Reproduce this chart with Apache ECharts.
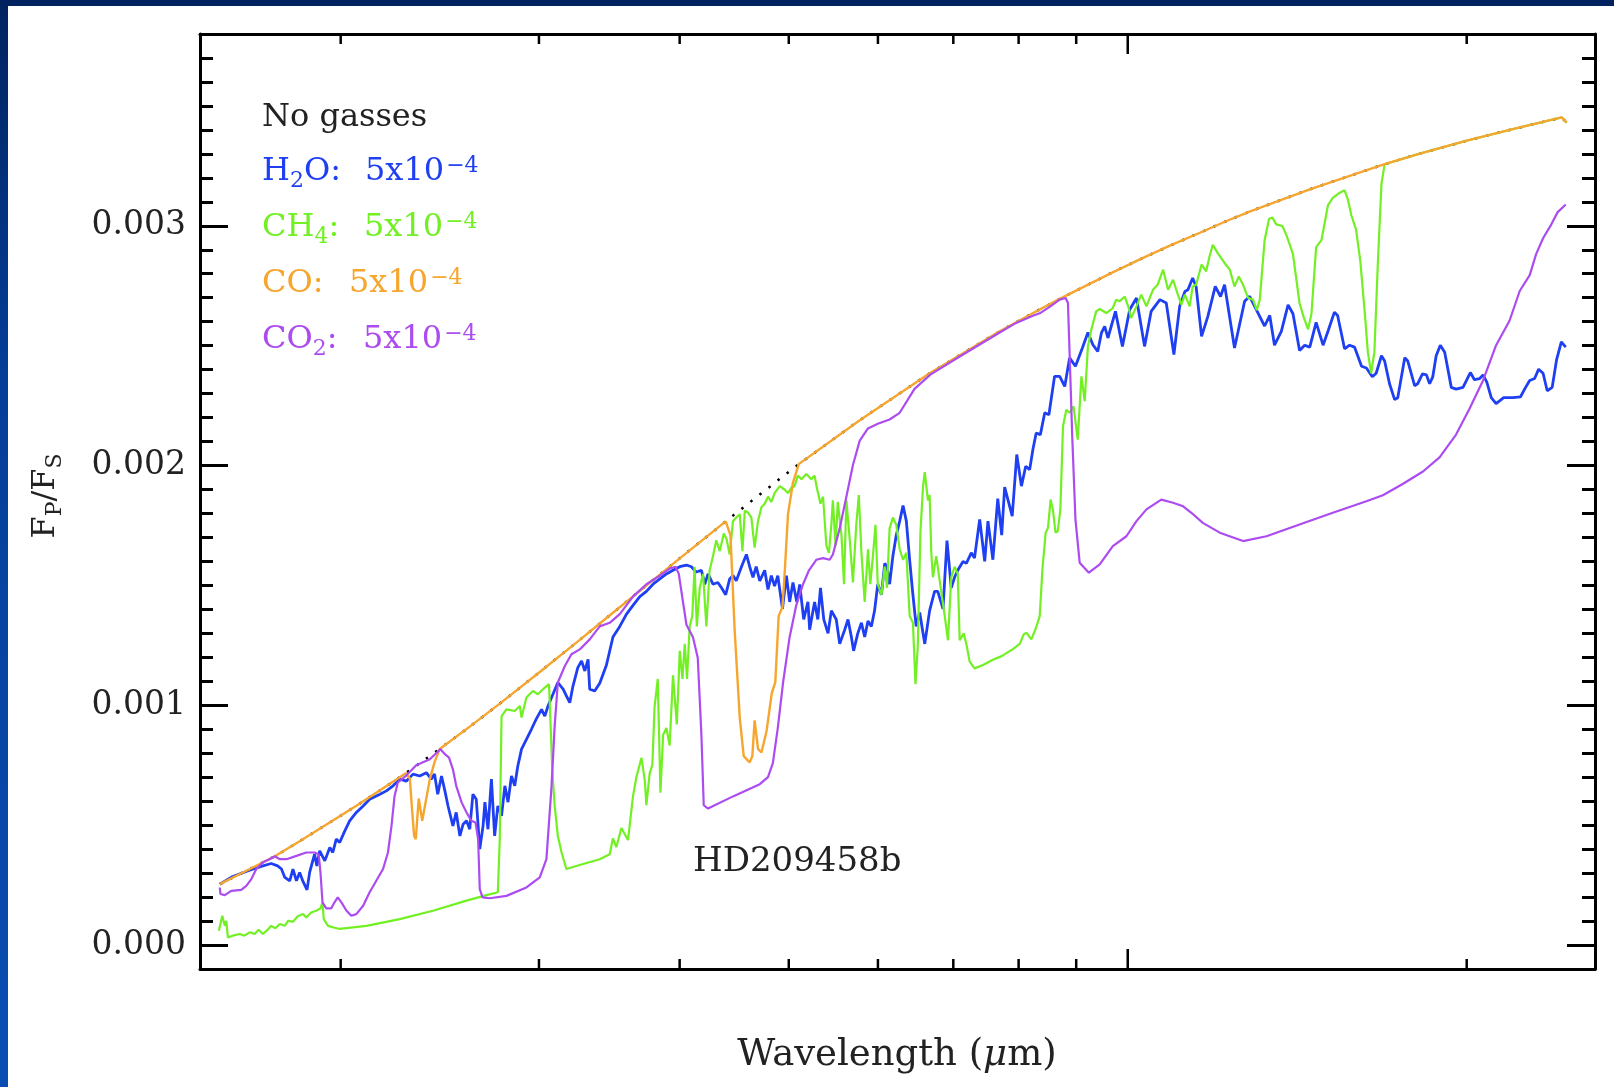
<!DOCTYPE html>
<html>
<head>
<meta charset="utf-8">
<script src="https://cdn.jsdelivr.net/npm/echarts@6.0.0/dist/echarts.min.js"></script>
<style>
html,body{margin:0;padding:0;background:#fff;}
#chart{width:1614px;height:1087px;}
</style>
</head>
<body>
<div id="chart"></div>
<script>
// ---------- DATA (wavelength in micron, planet/star flux ratio) ----------
const noGas = [[1.562,0.000254],[1.661,0.000317],[1.748,0.00037],[1.839,0.000433],[1.996,0.000537],[2.08,0.00059],[2.257,0.0007],[2.351,0.000758],[2.449,0.000818],[2.604,0.000911],[2.769,0.001007],[3.005,0.001139],[3.261,0.001273],[3.397,0.001341],[3.841,0.001545],[4.001,0.001613],[4.395,0.001767],[4.712,0.001879],[5.103,0.002006],[5.781,0.002189],[6.67,0.002385],[7.092,0.00246],[7.696,0.00256],[8.18,0.002628],[8.70,0.002695],[9.697,0.002806],[10.25,0.00286],[10.90,0.002917],[11.59,0.002971],[12.24,0.00302],[12.83,0.003059],[13.65,0.003106],[14.51,0.003152],[15.58,0.003201],[16.91,0.003257],[18.17,0.003301],[20.04,0.003356],[22.06,0.003405],[24.29,0.003452],[24.54,0.00343]];

const h2o = [[1.562,0.000254],[1.604,0.000286],[1.660,0.000312],[1.706,0.00033],[1.735,0.00034],[1.758,0.00033],[1.772,0.000317],[1.784,0.000282],[1.802,0.000268],[1.814,0.000317],[1.827,0.000268],[1.839,0.000303],[1.852,0.000264],[1.867,0.00023],[1.877,0.000303],[1.896,0.000379],[1.905,0.00033],[1.916,0.000393],[1.936,0.000351],[1.956,0.000407],[1.968,0.000386],[1.982,0.000442],[1.996,0.000428],[2.017,0.000476],[2.037,0.000518],[2.065,0.000553],[2.094,0.00058],[2.122,0.000608],[2.167,0.000629],[2.196,0.000643],[2.226,0.000664],[2.257,0.000692],[2.288,0.000684],[2.319,0.000713],[2.351,0.000705],[2.383,0.000719],[2.407,0.000692],[2.423,0.000713],[2.439,0.000629],[2.458,0.000705],[2.475,0.000643],[2.491,0.00058],[2.516,0.000497],[2.533,0.000553],[2.552,0.000455],[2.569,0.000504],[2.587,0.000518],[2.604,0.000483],[2.621,0.000629],[2.639,0.000608],[2.658,0.0004],[2.676,0.000497],[2.686,0.000596],[2.703,0.000483],[2.722,0.000692],[2.740,0.000455],[2.758,0.00058],[2.779,0.000539],[2.798,0.000664],[2.816,0.000596],[2.836,0.000705],[2.855,0.000664],[2.873,0.000747],[2.895,0.000817],[2.924,0.000858],[2.954,0.0009],[2.983,0.000942],[3.016,0.000983],[3.036,0.000955],[3.056,0.000997],[3.087,0.001046],[3.118,0.001095],[3.152,0.001067],[3.173,0.001039],[3.195,0.001011],[3.216,0.00108],[3.248,0.001157],[3.273,0.001185],[3.295,0.001143],[3.317,0.001192],[3.328,0.001067],[3.362,0.00106],[3.397,0.001092],[3.444,0.001168],[3.490,0.001285],[3.539,0.001329],[3.588,0.00138],[3.636,0.001417],[3.687,0.001453],[3.737,0.001475],[3.788,0.001505],[3.841,0.001527],[3.893,0.001548],[3.946,0.001563],[4.001,0.001578],[4.056,0.001585],[4.097,0.001578],[4.138,0.001556],[4.182,0.001563],[4.211,0.001505],[4.239,0.001548],[4.282,0.001505],[4.325,0.001512],[4.357,0.00149],[4.395,0.001461],[4.431,0.001527],[4.461,0.001541],[4.491,0.001519],[4.539,0.001578],[4.585,0.001629],[4.616,0.001578],[4.647,0.001534],[4.678,0.001578],[4.712,0.001519],[4.760,0.001563],[4.792,0.001483],[4.825,0.001541],[4.857,0.001497],[4.889,0.001541],[4.936,0.001402],[4.976,0.001541],[5.009,0.001431],[5.043,0.001512],[5.083,0.001431],[5.113,0.001504],[5.155,0.001358],[5.200,0.001431],[5.218,0.001315],[5.271,0.001431],[5.306,0.001358],[5.335,0.00149],[5.371,0.001358],[5.418,0.0013],[5.455,0.001395],[5.510,0.001358],[5.549,0.001256],[5.606,0.001315],[5.644,0.001358],[5.683,0.001285],[5.709,0.001227],[5.758,0.0013],[5.801,0.001344],[5.840,0.001285],[5.879,0.001351],[5.920,0.001329],[5.959,0.001395],[5.998,0.001505],[6.043,0.001461],[6.084,0.001592],[6.112,0.001578],[6.145,0.001505],[6.186,0.001622],[6.229,0.001709],[6.273,0.001768],[6.316,0.001833],[6.359,0.001768],[6.402,0.001607],[6.445,0.001461],[6.488,0.001329],[6.535,0.001387],[6.603,0.001256],[6.669,0.001395],[6.737,0.001475],[6.781,0.001475],[6.854,0.001402],[6.910,0.001687],[6.971,0.00149],[7.018,0.001534],[7.064,0.001563],[7.140,0.0016],[7.189,0.001592],[7.262,0.001636],[7.310,0.001614],[7.388,0.001775],[7.464,0.0016],[7.514,0.001768],[7.590,0.001607],[7.666,0.001862],[7.728,0.00171],[7.775,0.00191],[7.896,0.001789],[7.970,0.002046],[8.046,0.001914],[8.117,0.001997],[8.183,0.001983],[8.237,0.002067],[8.293,0.002136],[8.364,0.002129],[8.439,0.00222],[8.511,0.002212],[8.610,0.002372],[8.701,0.002372],[8.791,0.00233],[8.879,0.002449],[8.986,0.002414],[9.114,0.00249],[9.218,0.002555],[9.312,0.002504],[9.405,0.002476],[9.476,0.002553],[9.540,0.00258],[9.603,0.002532],[9.752,0.002643],[9.892,0.002497],[10.04,0.00265],[10.18,0.002699],[10.35,0.002497],[10.49,0.002643],[10.68,0.002692],[10.82,0.002678],[10.99,0.002463],[11.12,0.002664],[11.24,0.002726],[11.31,0.002733],[11.42,0.002782],[11.50,0.002747],[11.63,0.002539],[11.78,0.002622],[11.96,0.002747],[12.09,0.002705],[12.19,0.002754],[12.44,0.00249],[12.70,0.002685],[12.83,0.002706],[13.23,0.002582],[13.37,0.002626],[13.50,0.002502],[13.69,0.00256],[13.88,0.00267],[14.02,0.002633],[14.21,0.00248],[14.36,0.002502],[14.51,0.002494],[14.70,0.002597],[14.91,0.002502],[15.06,0.00256],[15.26,0.00264],[15.36,0.002626],[15.58,0.002487],[15.74,0.002502],[15.90,0.002494],[16.13,0.002414],[16.29,0.002407],[16.49,0.00237],[16.62,0.002385],[16.80,0.002458],[16.91,0.002436],[17.08,0.002341],[17.26,0.002275],[17.37,0.002283],[17.62,0.00245],[17.73,0.002436],[17.98,0.002333],[18.09,0.002341],[18.27,0.002382],[18.42,0.002378],[18.54,0.002341],[18.66,0.00237],[18.79,0.002458],[18.95,0.002502],[19.12,0.002473],[19.38,0.002326],[19.57,0.002319],[19.85,0.002326],[20.15,0.002388],[20.32,0.002358],[20.54,0.002363],[20.68,0.002378],[20.84,0.002348],[21.03,0.002283],[21.24,0.002258],[21.57,0.002283],[21.98,0.002283],[22.32,0.002286],[22.56,0.002326],[22.75,0.002355],[22.98,0.002363],[23.17,0.002402],[23.38,0.002385],[23.58,0.002312],[23.82,0.002326],[24.04,0.002443],[24.27,0.002516],[24.49,0.002494]];

const ch4 = [[1.559,0.00006],[1.570,0.000122],[1.578,0.00008],[1.583,0.000101],[1.588,0.000032],[1.604,0.000039],[1.627,0.000046],[1.643,0.000039],[1.660,0.000053],[1.677,0.000046],[1.691,0.000064],[1.706,0.000046],[1.723,0.000064],[1.735,0.00008],[1.750,0.00007],[1.766,0.000088],[1.784,0.00008],[1.796,0.000101],[1.814,0.000097],[1.832,0.00012],[1.852,0.000129],[1.864,0.000115],[1.883,0.000136],[1.902,0.000143],[1.919,0.000153],[1.927,0.000178],[1.932,0.000108],[1.949,0.00008],[1.968,0.000074],[1.996,0.000067],[2.108,0.00008],[2.257,0.000108],[2.415,0.000143],[2.587,0.000185],[2.695,0.000208],[2.758,0.00022],[2.769,0.000442],[2.779,0.000955],[2.807,0.000983],[2.855,0.000976],[2.885,0.000997],[2.895,0.000949],[2.924,0.001032],[2.963,0.00106],[2.993,0.001046],[3.036,0.001074],[3.062,0.001088],[3.067,0.001011],[3.083,0.000726],[3.098,0.00058],[3.118,0.000455],[3.142,0.000386],[3.173,0.000317],[3.283,0.000338],[3.397,0.000358],[3.467,0.000379],[3.490,0.000445],[3.514,0.000408],[3.551,0.000488],[3.599,0.000438],[3.636,0.00062],[3.661,0.0007],[3.700,0.000781],[3.725,0.000686],[3.737,0.000583],[3.762,0.000715],[3.783,0.000752],[3.800,0.000993],[3.825,0.00111],[3.846,0.000635],[3.867,0.000876],[3.893,0.000905],[3.919,0.000832],[3.946,0.001125],[3.977,0.00092],[4.001,0.001227],[4.023,0.00111],[4.042,0.001256],[4.061,0.00111],[4.083,0.001329],[4.105,0.001373],[4.124,0.001578],[4.143,0.001329],[4.168,0.00149],[4.196,0.001548],[4.225,0.001329],[4.253,0.001563],[4.282,0.001622],[4.311,0.001688],[4.342,0.001643],[4.378,0.001717],[4.402,0.001695],[4.431,0.001629],[4.461,0.001768],[4.491,0.001783],[4.523,0.001797],[4.548,0.001643],[4.570,0.001812],[4.600,0.001804],[4.632,0.001783],[4.663,0.001658],[4.695,0.001768],[4.728,0.001826],[4.760,0.001841],[4.792,0.00187],[4.825,0.001848],[4.857,0.001885],[4.909,0.001914],[4.959,0.001899],[4.992,0.001885],[5.026,0.001907],[5.060,0.001914],[5.093,0.001958],[5.131,0.001943],[5.183,0.001965],[5.236,0.001943],[5.271,0.001958],[5.295,0.001907],[5.335,0.001841],[5.363,0.00187],[5.400,0.001665],[5.428,0.001636],[5.455,0.001753],[5.472,0.001855],[5.502,0.001665],[5.527,0.001848],[5.569,0.001709],[5.598,0.001505],[5.625,0.001855],[5.663,0.001695],[5.701,0.001512],[5.740,0.001753],[5.770,0.001877],[5.801,0.001636],[5.840,0.001431],[5.879,0.001651],[5.907,0.001505],[5.939,0.001622],[5.970,0.001753],[5.998,0.001505],[6.043,0.001461],[6.084,0.001578],[6.112,0.00149],[6.145,0.001738],[6.186,0.001783],[6.229,0.001753],[6.273,0.001651],[6.316,0.001607],[6.359,0.001636],[6.402,0.001373],[6.445,0.001344],[6.479,0.001088],[6.509,0.001241],[6.545,0.001724],[6.580,0.001914],[6.603,0.001973],[6.646,0.001855],[6.669,0.001877],[6.692,0.001636],[6.714,0.001534],[6.760,0.001622],[6.808,0.001519],[6.878,0.001373],[6.924,0.001271],[6.971,0.001534],[7.018,0.001578],[7.064,0.001548],[7.092,0.001271],[7.150,0.0013],[7.189,0.001256],[7.237,0.001183],[7.310,0.001154],[7.438,0.001168],[7.590,0.00119],[7.728,0.001205],[7.907,0.001234],[8.018,0.001256],[8.084,0.001296],[8.128,0.001303],[8.211,0.001275],[8.281,0.001317],[8.353,0.001372],[8.399,0.001567],[8.455,0.00172],[8.495,0.00174],[8.541,0.001858],[8.581,0.001817],[8.627,0.00172],[8.667,0.001726],[8.713,0.001817],[8.760,0.002164],[8.820,0.002233],[8.879,0.00222],[8.951,0.002247],[9.028,0.002108],[9.096,0.002372],[9.158,0.002268],[9.218,0.002497],[9.282,0.002567],[9.375,0.002643],[9.443,0.002653],[9.572,0.002636],[9.700,0.002657],[9.766,0.002692],[9.838,0.002685],[9.939,0.002705],[10.01,0.002664],[10.07,0.002615],[10.18,0.002664],[10.28,0.002713],[10.39,0.002664],[10.46,0.002699],[10.53,0.002733],[10.63,0.002754],[10.75,0.002817],[10.86,0.002733],[10.97,0.002775],[11.08,0.002713],[11.16,0.002671],[11.24,0.002713],[11.35,0.002664],[11.42,0.002747],[11.50,0.002754],[11.63,0.002838],[11.74,0.00281],[11.82,0.002872],[11.90,0.002921],[12.02,0.002886],[12.19,0.002845],[12.32,0.002817],[12.44,0.002747],[12.55,0.002789],[12.66,0.002754],[12.79,0.002699],[12.92,0.002692],[13.02,0.002648],[13.10,0.002692],[13.23,0.00294],[13.35,0.003028],[13.44,0.003035],[13.55,0.003006],[13.72,0.002999],[13.83,0.002962],[13.92,0.002925],[14.02,0.002882],[14.21,0.002677],[14.33,0.002619],[14.46,0.002568],[14.56,0.002633],[14.70,0.002911],[14.86,0.00294],[15.06,0.003086],[15.21,0.003116],[15.43,0.003138],[15.58,0.003148],[15.69,0.003108],[15.80,0.003043],[15.95,0.002984],[16.09,0.002853],[16.23,0.002648],[16.34,0.002473],[16.45,0.002385],[16.56,0.002473],[16.67,0.002823],[16.80,0.003174],[16.91,0.003257],[18.17,0.003301],[20.04,0.003356],[22.06,0.003405],[24.29,0.003452],[24.54,0.00343]];

const co = [[1.562,0.000254],[1.661,0.000317],[1.748,0.00037],[1.839,0.000433],[1.996,0.000537],[2.08,0.00059],[2.257,0.0007],[2.285,0.000717],[2.304,0.000695],[2.313,0.00058],[2.324,0.000455],[2.332,0.000442],[2.346,0.000611],[2.363,0.000518],[2.40,0.000692],[2.424,0.000765],[2.449,0.000818],[2.604,0.000911],[2.769,0.001007],[3.005,0.001139],[3.261,0.001273],[3.397,0.001341],[3.841,0.001545],[4.001,0.001613],[4.395,0.001767],[4.438,0.00171],[4.476,0.001315],[4.523,0.000949],[4.560,0.000788],[4.616,0.000762],[4.641,0.000788],[4.663,0.000937],[4.695,0.000818],[4.728,0.000803],[4.778,0.000892],[4.829,0.001051],[4.864,0.001096],[4.898,0.001373],[4.936,0.00141],[4.962,0.001578],[4.992,0.001797],[5.043,0.001929],[5.103,0.002006],[5.781,0.002189],[6.67,0.002385],[7.092,0.00246],[7.696,0.00256],[8.18,0.002628],[8.70,0.002695],[9.697,0.002806],[10.25,0.00286],[10.90,0.002917],[11.59,0.002971],[12.24,0.00302],[12.83,0.003059],[13.65,0.003106],[14.51,0.003152],[15.58,0.003201],[16.91,0.003257],[18.17,0.003301],[20.04,0.003356],[22.06,0.003405],[24.29,0.003452],[24.54,0.00343]];

const co2 = [[1.562,0.00024],[1.564,0.000213],[1.578,0.000208],[1.599,0.000226],[1.632,0.00023],[1.649,0.000247],[1.666,0.000275],[1.683,0.000317],[1.706,0.000345],[1.729,0.000358],[1.748,0.00037],[1.766,0.000358],[1.790,0.000358],[1.827,0.000372],[1.864,0.000386],[1.896,0.000386],[1.912,0.000379],[1.919,0.000303],[1.927,0.000178],[1.942,0.000153],[1.962,0.000153],[1.975,0.000178],[1.988,0.000199],[2.003,0.000178],[2.024,0.000143],[2.044,0.000122],[2.065,0.000129],[2.094,0.000164],[2.122,0.00022],[2.151,0.000268],[2.181,0.000317],[2.203,0.000386],[2.219,0.000497],[2.233,0.000622],[2.248,0.000678],[2.288,0.000708],[2.334,0.00075],[2.400,0.000775],[2.453,0.000817],[2.475,0.000796],[2.496,0.000782],[2.516,0.000733],[2.533,0.000664],[2.561,0.000595],[2.587,0.000553],[2.613,0.000518],[2.635,0.000511],[2.649,0.000442],[2.658,0.000233],[2.673,0.000199],[2.713,0.000195],[2.807,0.000205],[2.924,0.00024],[3.005,0.000282],[3.046,0.000358],[3.077,0.00065],[3.098,0.000914],[3.118,0.001095],[3.163,0.001164],[3.206,0.001213],[3.261,0.001233],[3.328,0.001275],[3.397,0.001329],[3.467,0.001344],[3.539,0.00138],[3.636,0.001453],[3.737,0.001505],[3.841,0.001541],[3.919,0.00157],[3.967,0.001578],[3.993,0.001548],[4.023,0.001446],[4.056,0.001336],[4.110,0.001285],[4.151,0.001198],[4.182,0.000876],[4.202,0.000583],[4.239,0.000569],[4.461,0.00062],[4.712,0.000671],[4.792,0.0007],[4.840,0.000759],[4.889,0.000905],[4.942,0.001095],[5.009,0.001285],[5.077,0.001417],[5.148,0.001505],[5.211,0.001563],[5.289,0.001607],[5.363,0.001614],[5.436,0.001607],[5.472,0.001629],[5.549,0.001738],[5.625,0.00187],[5.701,0.002002],[5.781,0.002104],[5.879,0.002155],[5.998,0.002174],[6.145,0.002192],[6.273,0.00222],[6.466,0.00232],[6.683,0.00238],[7.092,0.002455],[7.696,0.002555],[7.960,0.002595],[8.237,0.002625],[8.353,0.002635],[8.524,0.002662],[8.701,0.002692],[8.808,0.002699],[8.849,0.002678],[8.879,0.00247],[8.927,0.002122],[8.986,0.001775],[9.064,0.001595],[9.236,0.001553],[9.443,0.001588],[9.700,0.001664],[9.973,0.001705],[10.18,0.001768],[10.39,0.001817],[10.71,0.001858],[10.97,0.001845],[11.20,0.00183],[11.39,0.001803],[11.66,0.001761],[12.07,0.00172],[12.66,0.001685],[13.28,0.001705],[14.21,0.001754],[15.21,0.001803],[16.29,0.001851],[16.85,0.001876],[17.56,0.001924],[18.29,0.001975],[18.92,0.002034],[19.57,0.002129],[20.12,0.002238],[20.68,0.002355],[21.24,0.002502],[21.83,0.002604],[22.29,0.002728],[22.75,0.002794],[23.05,0.002882],[23.38,0.002948],[23.78,0.003006],[24.09,0.003057],[24.49,0.003089]];

// axis ticks
const xTickValues = [2, 3, 4, 5, 6, 7, 8, 9, 10, 20];
const xTickMajor  = [0, 0, 0, 0, 0, 0, 0, 0, 1, 0];
const yLabelValues = [0, 0.001, 0.002, 0.003];
const yAxisMin = -0.0001, yAxisMax = 0.0038, yMinorStep = 0.0001;
const xAxisMin = 1.5, xAxisMax = 26;

// ---------- STYLE ----------
const FONT = 'DejaVu Serif';
const TXT = '#222222';
const C_BLUE = '#1f3ff2', C_GREEN = '#72f024', C_ORANGE = '#f6a62e', C_PURPLE = '#ac4cf0';

const chart = echarts.init(document.getElementById('chart'), null, {renderer: 'canvas'});

function yAxisBase(pos) {
  return {
    type: 'value', position: pos, min: yAxisMin, max: yAxisMax,
    splitLine: {show: false}, gridIndex: 0
  };
}
const minorYTick = {show: true, inside: true, length: 13, lineStyle: {color: '#000', width: 3}};
const majorYTick = {show: true, inside: true, length: 28, customValues: yLabelValues, lineStyle: {color: '#000', width: 3}};

function richText(x, y, text, color, size, extra) {
  const sub = Math.round(size * 0.68);
  const rich = {
    n: {fill: color, fontFamily: FONT, fontSize: size, lineHeight: 40},
    i: {fill: color, fontFamily: FONT, fontSize: size, lineHeight: 40, fontStyle: 'italic'},
    s: {fill: color, fontFamily: FONT, fontSize: sub, verticalAlign: 'bottom'},
    p: {fill: color, fontFamily: FONT, fontSize: sub, verticalAlign: 'top', padding: [3, 0, 0, 2]}
  };
  return Object.assign({
    type: 'text', x: x, y: y, z: 100, silent: true,
    style: {text: text, rich: rich, fill: color, fontFamily: FONT, fontSize: size, align: 'left', verticalAlign: 'middle'}
  }, extra || {});
}

const option = {
  animation: false,
  backgroundColor: '#ffffff',
  grid: {left: 200, top: 34, width: 1395, height: 935, containLabel: false},
  xAxis: [
    {type: 'log', logBase: 10, min: xAxisMin, max: xAxisMax, position: 'bottom',
     axisLine: {show: true, onZero: false, lineStyle: {color: '#000', width: 3}},
     axisTick: {show: false}, axisLabel: {show: false}, splitLine: {show: false}, minorTick: {show: false}},
    {type: 'log', logBase: 10, min: xAxisMin, max: xAxisMax, position: 'top',
     axisLine: {show: true, onZero: false, lineStyle: {color: '#000', width: 3}},
     axisTick: {show: false}, axisLabel: {show: false}, splitLine: {show: false}, minorTick: {show: false}}
  ],
  yAxis: [
    Object.assign(yAxisBase('left'), {
      interval: yMinorStep,
      axisLine: {show: true, onZero: false, lineStyle: {color: '#000', width: 3}},
      axisTick: minorYTick,
      axisLabel: {show: true, margin: 14, color: TXT, fontFamily: FONT, fontSize: 33,
        formatter: function (v) { const k = Math.round(v * 1e4); return (k % 10 === 0) ? (k / 1e4).toFixed(3) : ''; }}
    }),
    Object.assign(yAxisBase('left'), {
      axisLine: {show: false}, axisTick: majorYTick, axisLabel: {show: false}
    }),
    Object.assign(yAxisBase('right'), {
      interval: yMinorStep,
      axisLine: {show: true, onZero: false, lineStyle: {color: '#000', width: 3}},
      axisTick: minorYTick, axisLabel: {show: false}
    }),
    Object.assign(yAxisBase('right'), {
      axisLine: {show: false}, axisTick: majorYTick, axisLabel: {show: false}
    })
  ],
  series: [
    {name: 'No gasses', type: 'line', data: noGas, showSymbol: false, symbol: 'none', z: 2,
     lineStyle: {color: '#000', width: 2.5, type: [2.5, 9]}},
    {name: 'H2O', type: 'line', data: h2o, showSymbol: false, symbol: 'none', z: 3,
     lineStyle: {color: C_BLUE, width: 2.8}},
    {name: 'CH4', type: 'line', data: ch4, showSymbol: false, symbol: 'none', z: 4,
     lineStyle: {color: C_GREEN, width: 2.2}},
    {name: 'CO', type: 'line', data: co, showSymbol: false, symbol: 'none', z: 5,
     lineStyle: {color: C_ORANGE, width: 2.4}},
    {name: 'CO2', type: 'line', data: co2, showSymbol: false, symbol: 'none', z: 6,
     lineStyle: {color: C_PURPLE, width: 2.2}},
    {name: 'xticks', type: 'custom', silent: true, z: 10, clip: false,
     data: xTickValues.map(function (v, i) { return [v, 0, xTickMajor[i]]; }),
     encode: {x: 0, y: 1},
     renderItem: function (params, api) {
       const cs = params.coordSys;
       const x = api.coord([api.value(0), 0])[0];
       const len = api.value(2) ? 20 : 10;
       const st = {stroke: '#000', lineWidth: 2.5};
       const yb = cs.y + cs.height, yt = cs.y;
       return {type: 'group', children: [
         {type: 'line', shape: {x1: x, y1: yb, x2: x, y2: yb - len}, style: st},
         {type: 'line', shape: {x1: x, y1: yt, x2: x, y2: yt + len}, style: st}
       ]};
     }}
  ],
  graphic: [
    {type: 'rect', shape: {x: 0, y: 0, width: 1614, height: 6}, style: {fill: '#00235f'}, z: 100, silent: true},
    {type: 'rect', shape: {x: 0, y: 0, width: 8, height: 1087}, z: 100, silent: true,
     style: {fill: new echarts.graphic.LinearGradient(0, 0, 0, 1, [
       {offset: 0, color: '#00235f'}, {offset: 0.35, color: '#053e98'}, {offset: 1, color: '#0a4db2'}])}},
    richText(262, 118, '{n|No gasses}', TXT, 32),
    richText(262, 172, '{n|H}{s|2}{n|O:}', C_BLUE, 32),
    richText(365, 172, '{n|5x10}{p|−4}', C_BLUE, 32),
    richText(262, 228, '{n|CH}{s|4}{n|:}', C_GREEN, 32),
    richText(364, 228, '{n|5x10}{p|−4}', C_GREEN, 32),
    richText(262, 284, '{n|CO:}', C_ORANGE, 32),
    richText(349, 284, '{n|5x10}{p|−4}', C_ORANGE, 32),
    richText(262, 340, '{n|CO}{s|2}{n|:}', C_PURPLE, 32),
    richText(363, 340, '{n|5x10}{p|−4}', C_PURPLE, 32),
    richText(693, 862, '{n|HD209458b}', TXT, 34),
    richText(897, 1055, '{n|Wavelength (}{i|μ}{n|m)}', TXT, 37),
    richText(46, 496, '{n|F}{s|P}{n|/F}{s|S}', TXT, 32, {rotation: Math.PI / 2})
  ]
};
option.graphic[option.graphic.length - 2].style.align = 'center';
option.graphic[option.graphic.length - 1].style.align = 'center';

chart.setOption(option);
</script>
</body>
</html>
